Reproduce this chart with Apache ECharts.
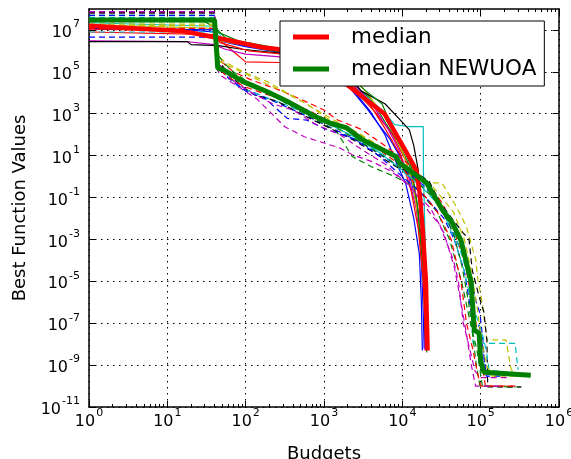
<!DOCTYPE html>
<html><head><meta charset="utf-8">
<script src="https://cdn.jsdelivr.net/npm/echarts@6/dist/echarts.min.js"></script>
<style>html,body{margin:0;padding:0;background:#fff}#c{width:571px;height:459px}</style>
</head><body><div id="c"></div>
<script>
// ---- axis ticks ----
const xTickValues = [1, 10, 100, 1e3, 1e4, 1e5, 1e6];
const yTickValues = [1e-11, 1e-9, 1e-7, 1e-5, 1e-3, 1e-1, 1e1, 1e3, 1e5, 1e7];
const xMinorTickValues = [];
for (let k = 0; k < 6; k++) { for (let m = 2; m <= 9; m++) { xMinorTickValues.push(m * Math.pow(10, k)); } }

// ---- medians ----
const medianA = [[1,1.6e7],[15,9e6],[40,4.5e6],[160,1.5e6],[260,1.2e6],[1000,1.6e5],[2100,2e4],[3470,4.7e3],[5900,1e3],[11200,15],[15100,2],[16600,0.17],[18200,3e-3],[20000,1e-5],[21000,5e-9]];
const medianNEWUOA = [[1,3e7],[40,3e7],[44,1.5e5],[53,1.2e5],[91,3.5e4],[186,1.15e4],[363,3.4e3],[794,7e2],[1170,3.7e2],[1950,2.1e2],[3090,58],[8300,9],[9100,4.6],[20400,0.5],[21900,0.32],[32400,0.026],[43600,6e-3],[56000,9e-4],[66000,7.4e-5],[76000,8.3e-6],[77600,1.8e-6],[83000,4.7e-8],[95500,3.3e-8],[100000,1.7e-9],[110000,4.5e-10],[436000,3.3e-10]];

// ---- runs of the first algorithm (solid) ----
const runA1 = [[1,1.3e7],[12,1.1e7],[40,8e6],[46,3e6],[100,1.6e6],[250,9e5],[1000,2.5e5],[2200,1.5e4],[3600,1.6e3],[5000,3e2],[7000,60],[9500,8],[13000,0.6],[16000,0.02],[17500,1e-4],[18500,3e-7],[19000,6e-9]];
const runA2 = [[1,2.8e7],[30,2.5e7],[42,1.2e7],[60,3e6],[150,1.3e6],[400,7e5],[1200,2e5],[2500,2e4],[4000,5e3],[6300,3e2],[9000,40],[12500,3],[15000,0.1],[17500,1e-3],[19500,1e-6],[20500,4e-9]];
const runA3 = [[1,1.1e7],[20,9e6],[40,5e6],[60,1.5e6],[100,3e5],[270,2.8e5],[1500,1e5],[2800,8e3],[4500,1.2e3],[7500,1e2],[11000,6],[14000,0.4],[17000,2e-3],[19000,3e-6],[20000,5e-9]];
const runA4 = [[1,2.2e7],[40,1.5e7],[50,4e6],[110,1.8e6],[300,1e6],[1500,1.5e5],[3000,1e4],[5500,1.5e3],[8000,3e2],[12000,2.4e2],[18500,2.4e2],[18600,2],[19500,1e-3],[20200,1e-5],[20500,8e-9]];
const runA5 = [[1,3e6],[17,2.8e6],[40,2e6],[55,1.2e6],[100,7e5],[300,5e5],[1200,1.5e5],[2600,2e4],[4200,2.5e3],[6500,2e2],[9000,20],[12000,1],[15000,0.03],[17500,3e-4],[19000,1e-6],[19500,5e-9]];
const runA6 = [[1,1.8e7],[40,1.2e7],[48,3e6],[120,1.6e6],[350,1.1e6],[1300,3e5],[2800,3e4],[4500,3e3],[7000,3e2],[10500,10],[13500,0.5],[16000,0.01],[18500,1e-5],[20000,1e-8]];
const runA7 = [[1,2.8e6],[18,2.8e6],[20,2e6],[45,1.8e6],[90,1.2e6],[250,8e5],[1000,3e5],[2000,8e4],[3000,1.2e4],[6000,3e3],[9000,6e2],[12300,170],[14000,30],[16000,2],[17500,0.01],[19000,1e-5],[19800,7e-9]];
const runA8 = [[1,1.2e7],[40,1e7],[45,4e6],[100,1.7e6],[250,1.2e6],[1100,2e5],[2400,1.2e4],[3800,1.5e3],[6000,1e2],[8500,4],[11000,0.5],[14000,0.01],[16500,2e-4],[17500,1e-6],[18000,5e-9]];
const runA9 = [[1,3e7],[40,2.8e7],[44,8e6],[80,3e6],[200,1.6e6],[600,8e5],[1800,1.2e5],[3200,1.5e4],[5500,3e3],[9000,40],[10500,20],[13000,3],[15500,0.05],[18000,1e-4],[20000,1e-6],[21000,1e-8]];
const runA10 = [[1,8e6],[40,6e6],[47,2.5e6],[110,1e6],[300,7e5],[1000,3e5],[2200,3e4],[3800,3e3],[6000,2e2],[9500,10],[13000,0.2],[16000,3e-3],[18500,1e-5],[20000,6e-9]];

// ---- runs of NEWUOA (dashed) ----
const runN1 = [[1,4.5e6],[40,4.5e6],[43,2e5],[55,8e4],[90,1.6e4],[150,8e3],[300,2.5e3],[700,6e2],[1500,1.5e2],[3000,40],[6000,8],[12000,1.5],[20000,0.3],[34000,0.02],[48000,1e-3],[68000,1e-4],[88000,1e-6],[98000,3e-7],[108000,1e-8],[113000,5e-10],[170000,4e-10]];
const runN2 = [[1,6e7],[40,6e7],[44,3e5],[60,9e4],[100,2.5e4],[200,1e4],[400,2e3],[900,4e2],[1450,1.4e2],[2300,9],[4000,3],[8000,1],[15000,0.3],[28000,0.02],[40000,1e-3],[57000,1e-5],[74000,1e-7],[90000,5e-9],[105000,1e-10],[330000,9e-11]];
const runN3 = [[1,3.5e7],[40,3.5e7],[45,4e5],[70,1e5],[120,4e4],[250,1.5e4],[500,5e3],[1000,1.5e3],[1500,5e2],[3000,1.8e2],[6000,30],[12000,4],[20000,0.6],[33000,0.05],[45000,3e-3],[62000,1e-4],[78000,1e-6],[92000,3e-8],[102000,2e-9],[115000,1e-10],[300000,1e-10]];
const runN4 = [[1,4e7],[40,4e7],[44,2.5e5],[55,1e5],[80,2e4],[150,8e3],[300,3e3],[700,8e2],[1500,2e2],[3000,50],[6000,10],[12000,1],[22000,0.2],[40000,0.01],[57000,2e-4],[72000,1e-5],[80000,1.1e-8],[275000,1.1e-8],[300000,6e-10]];
const runN5 = [[1,6.5e7],[40,6.5e7],[43,1.5e5],[47,7e4],[80,2e4],[140,5e3],[316,2.4e2],[560,80],[1000,40],[1600,23],[2300,11],[4200,5],[6800,2],[8300,1.2],[13000,0.3],[22000,0.02],[30000,5e-3],[45000,1e-4],[52000,1e-5],[60000,1e-7],[70000,1e-8],[85000,5e-10],[100000,2.5e-10],[230000,2.5e-10]];
const runN6 = [[1,1.9e7],[40,1.9e7],[44,6e5],[54,3e5],[98,9e4],[190,3.4e4],[690,2.1e3],[1500,4e2],[3000,1e2],[7000,12],[12000,2],[18000,0.5],[32000,0.5],[49000,0.036],[66000,4e-3],[87000,1e-4],[91000,1.6e-5],[105000,9e-7],[120000,1.6e-8],[210000,1.6e-8],[245000,6e-10],[260000,5e-10]];
const runN7 = [[1,7e7],[40,7e7],[44,4e5],[60,8e4],[90,2e4],[130,8e3],[250,4e3],[500,1e3],[1200,2e2],[2500,50],[5000,10],[9000,2.5],[16000,1.3],[22000,0.6],[30000,0.06],[45000,8e-3],[60000,2e-3],[71000,1e-3],[78000,3.5e-5],[95000,2e-6],[110000,3.4e-7],[120000,1.6e-8],[123000,9e-11],[330000,9e-11]];
const runN8 = [[1,5e7],[40,5e7],[45,2e5],[60,5e4],[100,1.2e4],[180,5e3],[340,6e2],[600,5e2],[1000,2e2],[2500,60],[5000,10],[10000,1],[20000,0.1],[34000,0.01],[46000,1e-3],[62000,3e-5],[72000,1e-6],[80000,1e-7],[95000,8e-8],[108000,5e-9],[118000,3e-10],[190000,3e-10]];
const runN9 = [[1,2.5e7],[40,2.5e7],[46,5e5],[65,1.2e5],[110,3e4],[220,8e3],[450,2.5e3],[900,5e2],[1700,1.5e2],[3500,30],[7000,6],[14000,0.8],[28000,0.06],[45000,2e-3],[58000,5e-5],[70000,1e-6],[80000,2e-8],[88000,1e-9],[98000,1e-10],[280000,9e-11]];
const runN10 = [[1,1.2e7],[40,1.2e7],[44,1.5e5],[58,6e4],[95,2e4],[160,1e4],[350,4e3],[700,1.2e3],[1400,3e2],[2600,1e2],[5000,20],[9000,4],[16000,0.3],[28000,0.02],[42000,1e-3],[56000,1e-5],[66000,1e-7],[80000,5e-9],[90000,5e-10],[100000,1e-10],[260000,1e-10]];
const runN11 = [[1,8e6],[40,8e6],[43,3e5],[50,1e5],[85,4e4],[150,1.5e4],[300,4e3],[600,1e3],[1200,3e2],[2400,80],[5000,15],[10000,2],[18000,0.3],[32000,0.03],[46000,1e-3],[62000,3e-5],[76000,1e-6],[95000,1e-7],[105000,3e-8],[118000,5e-9],[128000,6e-10],[170000,5e-10]];
const runN12 = [[1,7.5e7],[40,7.5e7],[44,3e5],[55,1e5],[75,3e4],[120,1e4],[220,3e3],[400,1.5e3],[800,3e2],[1600,1e2],[3000,20],[6000,4],[12000,0.4],[23000,0.03],[34000,2e-3],[46000,5e-5],[56000,1e-6],[66000,3e-8],[76000,1e-9],[86000,1e-10],[180000,1e-10]];
const runN13 = [[1,1.6e7],[40,1.6e7],[47,3e5],[70,1.5e5],[130,5e4],[260,1.5e4],[600,3e3],[1100,6e2],[2000,2e2],[4500,40],[9000,6],[15000,1.5],[25000,0.3],[45000,0.02],[62000,1e-3],[76000,3e-5],[88000,1e-6],[100000,3e-8],[118000,1e-9],[140000,3e-10],[330000,3e-10]];

const runsA = [runA1, runA2, runA3, runA4, runA5, runA6, runA7, runA8, runA9, runA10];
const runsN = [runN1, runN2, runN3, runN4, runN5, runN6, runN7, runN8, runN9, runN10, runN11, runN12, runN13];
const cycleColors = ['#0000ff', '#008000', '#ff0000', '#00bfbf', '#bf00bf', '#bfbf00', '#000000'];
const medianColors = ['#ff0000', '#008000'];
const legendNames = ['median', 'median NEWUOA'];

// ---- chart ----
const FONT = 'DejaVu Sans';
const chart = echarts.init(document.getElementById('c'), null, {renderer: 'canvas'});

function powLabel(v) {
  const e = Math.round(Math.log10(v));
  return '{b|10}{s|' + e + '}';
}
const richLab = {
  b: {fontSize: 16, fontFamily: FONT, color: '#000', lineHeight: 16, padding: [6, 0, 0, 0]},
  s: {fontSize: 11, fontFamily: FONT, color: '#000', lineHeight: 11, padding: [0, 0, 11, 1]}
};

function line(name, data, color, width, dash, z) {
  return {
    name: name, type: 'line', data: data, xAxisIndex: 0, yAxisIndex: 0,
    symbol: 'none', showSymbol: false, silent: true, z: z,
    lineStyle: {color: color, width: width, type: dash, cap: 'butt'},
    itemStyle: {color: color}, emphasis: {disabled: true}
  };
}
const series = [];
runsA.forEach((r, i) => series.push(line('A' + i, r, cycleColors[i % 7], 1.2, 'solid', 2)));
runsN.forEach((r, i) => series.push(line('N' + i, r, cycleColors[i % 7], 1.2, [6, 4], 2)));
series.push(line(legendNames[0], medianA, medianColors[0], 4.5, 'solid', 3));
series.push(line(legendNames[1], medianNEWUOA, medianColors[1], 5, 'solid', 3));

const gridLine = {show: true, lineStyle: {color: '#000', width: 1, type: [1.5, 4.5]}};
function xAx(pos, major, withLabel) {
  return {
    type: 'log', logBase: 10, min: 1, max: 1e6, position: pos, gridIndex: 0,
    axisLine: {show: major, onZero: false, lineStyle: {color: '#000', width: 1.5}},
    axisTick: {show: true, inside: true, length: major ? 6 : 3, customValues: major ? xTickValues : xMinorTickValues, lineStyle: {color: '#000', width: 1}},
    axisLabel: withLabel ? {show: true, customValues: xTickValues, formatter: powLabel, rich: richLab, margin: 4} : {show: false},
    splitLine: withLabel ? gridLine : {show: false},
    name: withLabel ? 'Budgets' : '', nameLocation: 'middle', nameGap: 38,
    nameTextStyle: {fontSize: 18, fontFamily: FONT, color: '#000'}
  };
}
function yAx(pos, withLabel) {
  return {
    type: 'log', logBase: 10, min: 1e-11, max: 1e8, position: pos, gridIndex: 0,
    axisLine: {show: true, onZero: false, lineStyle: {color: '#000', width: 1.5}},
    axisTick: {show: true, inside: true, length: 6, customValues: yTickValues, lineStyle: {color: '#000', width: 1}},
    axisLabel: withLabel ? {show: true, customValues: yTickValues, formatter: powLabel, rich: richLab, margin: 9} : {show: false},
    splitLine: withLabel ? gridLine : {show: false},
    name: withLabel ? 'Best Function Values' : '', nameLocation: 'middle', nameGap: 58,
    nameTextStyle: {fontSize: 18, fontFamily: FONT, color: '#000'}
  };
}

chart.setOption({
  animation: false,
  backgroundColor: '#fff',
  grid: {left: 89, right: 12, top: 9, bottom: 52, containLabel: false, outerBoundsMode: 'none'},
  xAxis: [xAx('bottom', true, true), xAx('bottom', false, false), xAx('top', true, false), xAx('top', false, false)],
  yAxis: [yAx('left', true), yAx('right', false)],
  legend: {
    data: legendNames, orient: 'vertical', left: 280, top: 21,
    icon: 'rect', itemWidth: 36, itemHeight: 5, itemGap: 8,
    padding: [4, 8, 5, 13], borderColor: '#000', borderWidth: 1, backgroundColor: '#fff',
    selectedMode: false,
    textStyle: {fontSize: 21.5, fontFamily: FONT, color: '#000', lineHeight: 24, padding: [0, 0, 0, 17]}
  },
  series: series
});
</script></body></html>
